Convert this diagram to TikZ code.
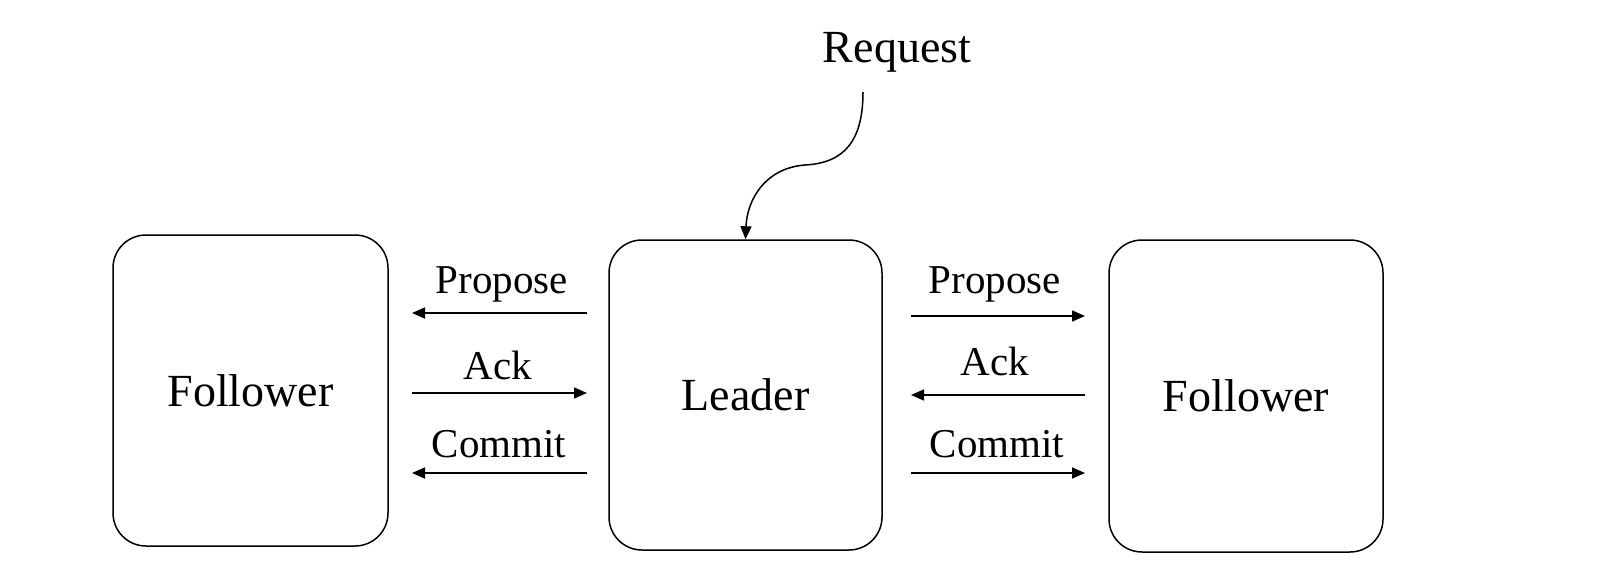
\documentclass[tikz,border=0pt]{standalone}
\usepackage{fontspec}
\setmainfont{Liberation Serif}
\usetikzlibrary{arrows.meta}
\begin{document}
\begin{tikzpicture}[x=1pt,y=-1pt,
  box/.style={draw, line width=1.5pt, rounded corners=33pt, inner sep=0pt, font=\fontsize{46}{54}\selectfont},
  lbl/.style={anchor=base, inner sep=0pt, font=\fontsize{41}{49}\selectfont},
  msg/.style={line width=1.6pt, -{Triangle[length=13pt,width=11pt]}}]
\useasboundingbox (0,0) rectangle (1622,572);
\node[box, minimum width=275pt, minimum height=311pt] (F1) at (250.5,390.5) {Follower};
\node[box, minimum width=273pt, minimum height=310pt] (L) at (745.5,395) {Leader};
\node[box, minimum width=274pt, minimum height=312pt] (F2) at (1246,396) {Follower};
\node[anchor=base, inner sep=0pt, font=\fontsize{46}{54}\selectfont] (req) at (897,63) {Request};
% left side
\coordinate (a1s) at (587,313); \coordinate (a1e) at (412,313);
\coordinate (a2s) at (412,393); \coordinate (a2e) at (587,393);
\coordinate (a3s) at (587,473); \coordinate (a3e) at (412,473);
\draw[msg] (a1s) -- (a1e);
\draw[msg] (a2s) -- (a2e);
\draw[msg] (a3s) -- (a3e);
\node[lbl] (lp1) at (502,293) {Propose};
\node[lbl] (lp2) at (498,379) {Ack};
\node[lbl] (lp3) at (499,457) {Commit};
% right side
\coordinate (b1s) at (911,316); \coordinate (b1e) at (1085,316);
\coordinate (b2s) at (1085,395); \coordinate (b2e) at (911,395);
\coordinate (b3s) at (911,473); \coordinate (b3e) at (1085,473);
\draw[msg] (b1s) -- (b1e);
\draw[msg] (b2s) -- (b2e);
\draw[msg] (b3s) -- (b3e);
\node[lbl] (rp1) at (995,293) {Propose};
\node[lbl] (rp2) at (995,375) {Ack};
\node[lbl] (rp3) at (997,457) {Commit};
% request curve
\coordinate (rs) at (863,92);
\draw[line width=1.5pt, -{Triangle[length=13pt,width=11pt]}] (rs) .. controls (863,140) and (845,163) .. (805,165) .. controls (765,168) and (747,200) .. (L.north);
\end{tikzpicture}
\end{document}
